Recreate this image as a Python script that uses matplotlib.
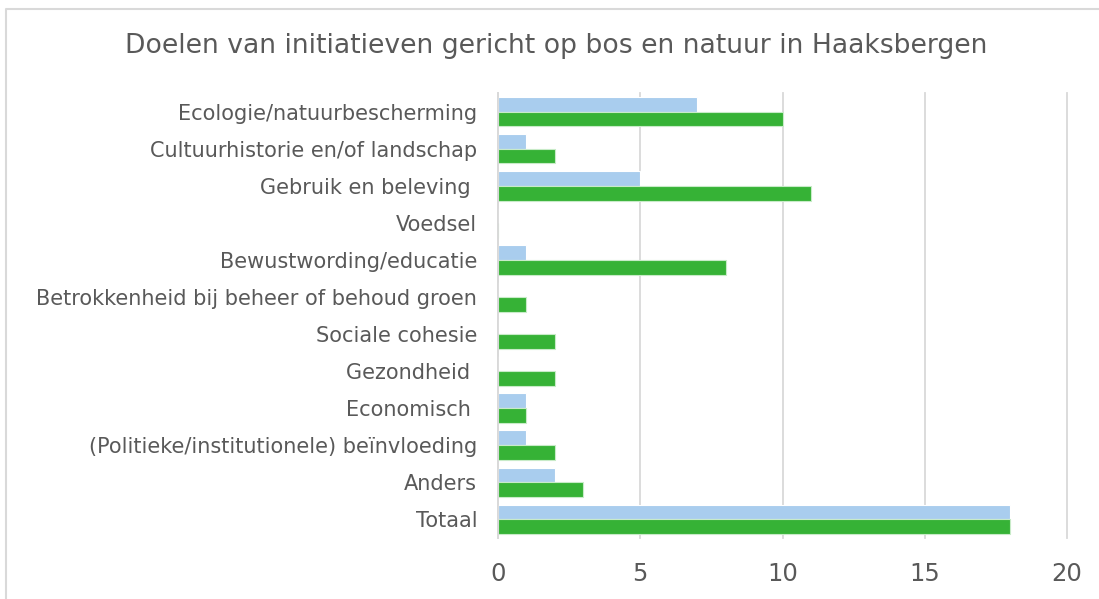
import matplotlib.pyplot as plt
import numpy as np
from matplotlib.lines import Line2D

categories = ["Ecologie/natuurbescherming", "Cultuurhistorie en/of landschap",
              "Gebruik en beleving ", "Voedsel", "Bewustwording/educatie",
              "Betrokkenheid bij beheer of behoud groen", "Sociale cohesie",
              "Gezondheid ", "Economisch ", "(Politieke/institutionele) beïnvloeding",
              "Anders", "Totaal"]
blue_vals = [7, 1, 5, 0, 1, 0, 0, 0, 1, 1, 2, 18]
green_vals = [10, 2, 11, 0, 8, 1, 2, 2, 1, 2, 3, 18]
x_ticks = [0, 5, 10, 15, 20]

txt = '#595959'
W, H = 1099, 599
fig = plt.figure(figsize=(W / 100, H / 100), dpi=100)
ax = fig.add_axes([498 / W, (H - 538) / H, (1067 - 498) / W, (538 - 93) / H])

y = np.arange(len(categories))
h = 0.4
ax.barh(y - h / 2, blue_vals, height=h, color='#A9CDEE', edgecolor='white', linewidth=0.8)
ax.barh(y + h / 2, green_vals, height=h, color='#36B236', edgecolor='#C8EBC8', linewidth=0.8)

ax.set_ylim(len(categories) - 0.5, -0.5)
ax.set_xlim(0, 20)
ax.set_yticks(y)
ax.set_yticklabels(categories, fontsize=15, color=txt)
ax.set_xticks(x_ticks)
ax.set_xticklabels([str(t) for t in x_ticks], fontsize=17.5, color=txt)
ax.tick_params(axis='y', length=0, pad=15)
ax.tick_params(axis='x', length=0, pad=17)
ax.grid(axis='x', color='#D9D9D9', linewidth=1.3)
for gl in ax.get_xgridlines():
    gl.set_clip_on(False)
ax.set_axisbelow(True)
for s in ['top', 'right', 'bottom']:
    ax.spines[s].set_visible(False)
ax.spines['left'].set_color('#D9D9D9')
ax.spines['left'].set_linewidth(1.3)

fig.text(556 / W, 1 - 46 / H, "Doelen van initiatieven gericht op bos en natuur in Haaksbergen",
         ha='center', va='center', fontsize=19.2, color=txt)

fig.add_artist(Line2D([6 / W, 6 / W, 1], [0, 1 - 9 / H, 1 - 9 / H], transform=fig.transFigure,
                      color='#D9D9D9', linewidth=1.5))

fig.savefig('out.png', dpi=100)
